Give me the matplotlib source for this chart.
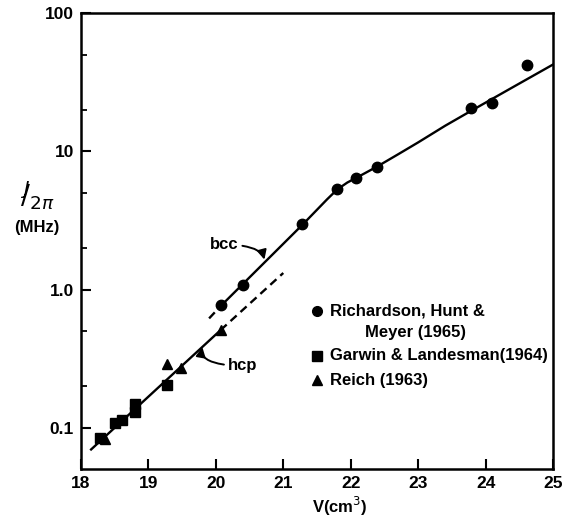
import matplotlib
matplotlib.use("Agg")
import matplotlib.pyplot as plt
import numpy as np
from matplotlib.ticker import LogLocator, FuncFormatter, NullFormatter

plt.rcParams["font.family"] = ["Liberation Sans", "DejaVu Sans"]
plt.rcParams["mathtext.fontset"] = "dejavusans"

# Richardson, Hunt & Meyer (1965)
rhm_v = [20.07, 20.40, 21.28, 21.80, 22.08, 22.39, 23.79, 24.10, 24.62]
rhm_j = [0.77, 1.09, 2.97, 5.34, 6.43, 7.7, 20.4, 22.5, 41.8]
# Garwin & Landesman (1964)
gl_v = [18.28, 18.50, 18.61, 18.80, 18.80, 19.27]
gl_j = [0.085, 0.108, 0.114, 0.150, 0.131, 0.205]
# Reich (1963)
reich_v = [18.35, 19.27, 19.49, 20.07]
reich_j = [0.083, 0.29, 0.27, 0.51]

# hand-drawn curves
hcp_v = [18.15, 20.07]
hcp_j = [0.070, 0.51]
hcp_ext_v = [20.07, 21.00]
hcp_ext_j = [0.51, 1.32]
bcc_ext_v = [19.90, 20.07]
bcc_ext_j = [0.62, 0.76]
bcc_v = [20.07, 21.30, 21.65, 21.80, 21.95, 22.10, 22.40, 22.70, 23.00, 23.40,
         23.80, 24.40, 25.00]
bcc_j = [0.76, 3.00, 4.50, 5.30, 5.95, 6.50, 7.80, 9.50, 11.6, 15.3,
         19.8, 29.0, 42.4]

xticks = [18, 19, 20, 21, 22, 23, 24, 25]
yticks = [0.1, 1.0, 10, 100]
ylabels = {0.1: "0.1", 1.0: "1.0", 10: "10", 100: "100"}

FW = "bold"
FS = 12

fig = plt.figure(figsize=(5.64, 5.17), dpi=100)
ax = fig.add_axes([0.1436, 0.0929, 0.8369, 0.882])
ax.set_yscale("log")
ax.set_xlim(18, 25)
ax.set_ylim(0.0506, 100)

lw = 1.7
ax.plot(hcp_v, hcp_j, color="black", lw=lw)
ax.plot(hcp_ext_v, hcp_ext_j, color="black", lw=lw, ls=(0, (3.5, 2.2)))
ax.plot(bcc_ext_v, bcc_ext_j, color="black", lw=lw, ls=(0, (3.5, 2.2)))
ax.plot(bcc_v, bcc_j, color="black", lw=lw)

ax.plot(rhm_v, rhm_j, "o", color="black", ms=7.5, ls="none")
ax.plot(gl_v, gl_j, "s", color="black", ms=7, ls="none")
ax.plot(reich_v, reich_j, "^", color="black", ms=7.5, ls="none")

# annotations
ax.annotate("bcc", xy=(20.72, 1.65), xytext=(20.12, 2.12),
            fontsize=FS, fontweight=FW, ha="center", va="center",
            arrowprops=dict(arrowstyle="-|>", color="black", lw=1.4,
                            shrinkA=1, shrinkB=0, mutation_scale=14,
                            connectionstyle="angle3,angleA=0,angleB=-75"))
ax.annotate("hcp", xy=(19.80, 0.385), xytext=(20.40, 0.282),
            fontsize=FS, fontweight=FW, ha="center", va="center",
            arrowprops=dict(arrowstyle="-|>", color="black", lw=1.4,
                            shrinkA=1, shrinkB=0, mutation_scale=14,
                            connectionstyle="angle3,angleA=180,angleB=80"))

# legend drawn as keys + text
kx, tx = 0.50, 0.5275
ax.plot([kx], [0.3465], "o", color="black", ms=7, transform=ax.transAxes, clip_on=False)
ax.text(tx, 0.3465, "Richardson, Hunt &", transform=ax.transAxes,
        fontsize=FS, fontweight=FW, va="center")
ax.text(0.602, 0.300, "Meyer (1965)", transform=ax.transAxes,
        fontsize=FS, fontweight=FW, va="center")
ax.plot([kx], [0.248], "s", color="black", ms=6.5, transform=ax.transAxes, clip_on=False)
ax.text(tx, 0.248, "Garwin & Landesman(1964)", transform=ax.transAxes,
        fontsize=FS, fontweight=FW, va="center")
ax.plot([kx], [0.195], "^", color="black", ms=7, transform=ax.transAxes, clip_on=False)
ax.text(tx, 0.195, "Reich (1963)", transform=ax.transAxes,
        fontsize=FS, fontweight=FW, va="center")

# axes styling
for side in ["left", "right", "top", "bottom"]:
    ax.spines[side].set_linewidth(1.8)
ax.set_xticks(xticks)
ax.xaxis.set_minor_locator(plt.NullLocator())
ax.set_yticks(yticks)
ax.yaxis.set_major_formatter(FuncFormatter(lambda v, p: ylabels.get(round(v, 3), "")))
ax.yaxis.set_minor_locator(LogLocator(base=10, subs=[2.0, 5.0]))
ax.yaxis.set_minor_formatter(NullFormatter())
ax.tick_params(axis="both", which="major", direction="in", length=7.5, width=1.5,
               labelsize=12.5, pad=5)
ax.tick_params(axis="both", which="minor", direction="in", length=4, width=1.3)
for lab in ax.get_xticklabels() + ax.get_yticklabels():
    lab.set_fontweight(FW)

fig.text(0.067, 0.623, r"$^{J}\!\!/_{2\pi}$", fontsize=19, ha="center", va="center")
fig.text(0.066, 0.559, "(MHz)", fontsize=FS, fontweight=FW, ha="center", va="center")
fig.text(0.603, 0.021, "V(cm$^3$)", fontsize=FS, fontweight=FW, ha="center", va="center")

fig.savefig("out.png", dpi=100)
